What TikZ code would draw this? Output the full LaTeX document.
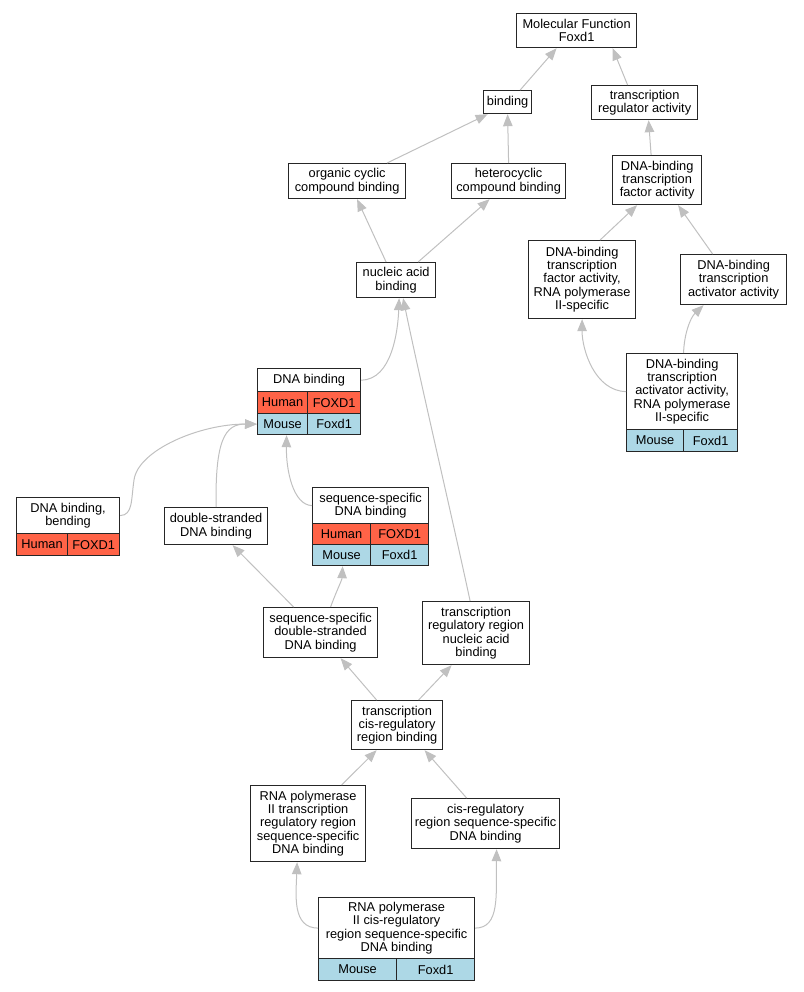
\documentclass[tikz,border=0pt]{standalone}
\usepackage{fontspec}
\setmainfont{Liberation Sans}
\usetikzlibrary{arrows.meta}
\definecolor{edgegray}{RGB}{192,192,192}
\definecolor{humanred}{RGB}{255,99,71}
\definecolor{mouseblue}{RGB}{173,216,230}
\begin{document}
\begin{tikzpicture}[x=1pt,y=-1pt,
 box/.style={draw=black!85, line width=1.2pt, fill=white, align=center, inner sep=0pt, anchor=north west, font=\fontsize{12.8}{13.4}\selectfont},
 hum/.style={box, fill=humanred},
 mou/.style={box, fill=mouseblue},
 edge/.style={draw=edgegray, line width=1pt, -{Triangle[length=12pt,width=9.5pt]}},
]
\useasboundingbox (0,0) rectangle (803,992);

\node[box, minimum width=120pt, minimum height=34pt] (mf) at (516,13) {Molecular Function\\Foxd1};
\node[box, minimum width=48pt, minimum height=23pt] (bind) at (483,90) {binding};
\node[box, minimum width=106pt, minimum height=34pt] (treg) at (591,85) {transcription\\regulator activity};
\node[box, minimum width=117pt, minimum height=35pt] (org) at (288,163) {organic cyclic\\compound binding};
\node[box, minimum width=114pt, minimum height=35pt] (het) at (451,163) {heterocyclic\\compound binding};
\node[box, minimum width=89pt, minimum height=49pt] (tfa) at (612,155) {DNA-binding\\transcription\\factor activity};
\node[box, minimum width=79pt, minimum height=35pt] (nab) at (356,262) {nucleic acid\\binding};
\node[box, minimum width=107pt, minimum height=78pt] (tfa2) at (528,240) {DNA-binding\\transcription\\factor activity,\\RNA polymerase\\II-specific};
\node[box, minimum width=106pt, minimum height=50pt] (act) at (680,254) {DNA-binding\\transcription\\activator activity};

\node[box, minimum width=103pt, minimum height=23pt] (dnab) at (257,368) {DNA binding};
\node[hum, minimum width=50pt, minimum height=22pt] (dnabh1) at (257,391) {Human};
\node[hum, minimum width=53pt, minimum height=22pt] (dnabh2) at (307,391) {FOXD1};
\node[mou, minimum width=50pt, minimum height=21pt] (dnabm1) at (257,413) {Mouse};
\node[mou, minimum width=53pt, minimum height=21pt] (dnabm2) at (307,413) {Foxd1};

\node[box, minimum width=111pt, minimum height=76pt] (act2) at (626,353) {DNA-binding\\transcription\\activator activity,\\RNA polymerase\\II-specific};
\node[mou, minimum width=57pt, minimum height=22pt] (act2m1) at (626,429) {Mouse};
\node[mou, minimum width=54pt, minimum height=22pt] (act2m2) at (683,429) {Foxd1};

\node[box, minimum width=103pt, minimum height=36pt] (bend) at (16,497) {DNA binding,\\bending};
\node[hum, minimum width=51pt, minimum height=22pt] (bendh1) at (16,533) {Human};
\node[hum, minimum width=52pt, minimum height=22pt] (bendh2) at (67,533) {FOXD1};

\node[box, minimum width=103pt, minimum height=37pt] (ds) at (164,507) {double-stranded\\DNA binding};

\node[box, minimum width=116pt, minimum height=36pt] (ssd) at (312,487) {sequence-specific\\DNA binding};
\node[hum, minimum width=58pt, minimum height=21pt] (ssdh1) at (312,523) {Human};
\node[hum, minimum width=58pt, minimum height=21pt] (ssdh2) at (370,523) {FOXD1};
\node[mou, minimum width=58pt, minimum height=21pt] (ssdm1) at (312,544) {Mouse};
\node[mou, minimum width=58pt, minimum height=21pt] (ssdm2) at (370,544) {Foxd1};

\node[box, minimum width=114pt, minimum height=50pt] (ssds) at (263,607) {sequence-specific\\double-stranded\\DNA binding};
\node[box, minimum width=107pt, minimum height=63pt] (trr) at (422,601) {transcription\\regulatory region\\nucleic acid\\binding};
\node[box, minimum width=91pt, minimum height=49pt] (tcis) at (351,700) {transcription\\cis-regulatory\\region binding};
\node[box, minimum width=115pt, minimum height=76pt] (rp2) at (250,785) {RNA polymerase\\II transcription\\regulatory region\\sequence-specific\\DNA binding};
\node[box, minimum width=148pt, minimum height=50pt] (cis) at (411,798) {cis-regulatory\\region sequence-specific\\DNA binding};

\node[box, minimum width=156pt, minimum height=61pt] (rpc) at (318,897) {RNA polymerase\\II cis-regulatory\\region sequence-specific\\DNA binding};
\node[mou, minimum width=78pt, minimum height=22pt] (rpcm1) at (318,958) {Mouse};
\node[mou, minimum width=78pt, minimum height=22pt] (rpcm2) at (396,958) {Foxd1};

% edges
\draw[edge] ([xshift=-12pt]bind.north east) -- ([xshift=-20pt]mf.south);
\draw[edge] ([xshift=-17pt]treg.north) -- ([xshift=36pt]mf.south);
\draw[edge] ([xshift=40pt]org.north) -- ([xshift=-20pt]bind.south);
\draw[edge] (het.north) -- (bind.south);
\draw[edge] ([xshift=-6pt]tfa.north) -- ([xshift=4pt]treg.south);
\draw[edge] ([xshift=-10pt]nab.north) -- ([xshift=10pt]org.south);
\draw[edge] ([xshift=22pt]nab.north) -- ([xshift=-19pt]het.south);
\draw[edge] ([xshift=18pt]tfa2.north) -- ([xshift=-20pt]tfa.south);
\draw[edge] ([xshift=-21pt]act.north) -- ([xshift=21pt]tfa.south);
\draw[edge] (act2.west) .. controls (595,391) and (582,350) .. (tfa2.south);
\draw[edge] ([xshift=1.5pt]act2.north) .. controls (684,335) and (690,318) .. ([xshift=-30pt]act.south);
\draw[edge] (dnab.east) .. controls (392,380) and (398,330) .. ([xshift=3pt]nab.south);
\draw[edge] ([xshift=-6pt]trr.north) .. controls (455,530) and (420,380) .. ([xshift=7pt]nab.south);
\draw[edge] (bend.east) .. controls (133,515) and (131,500) .. (134,480) .. controls (138,450) and (200,424) .. (dnabm1.west);
\draw[edge] (ds.north) .. controls (215,440) and (225,424) .. (dnabm1.west);
\draw[edge] (ssd.west) .. controls (293,505) and (286,470) .. ([xshift=4pt]dnabm1.south);
\draw[edge] ([xshift=-27pt]ssds.north) -- ([xshift=16.5pt]ds.south);
\draw[edge] ([xshift=10pt]ssds.north) .. controls (336,592) and (342,580) .. ([xshift=1pt]ssdm1.south);
\draw[edge] ([xshift=-20.5pt]tcis.north) -- ([xshift=20pt]ssds.south);
\draw[edge] ([xshift=21.5pt]tcis.north) -- ([xshift=-24.5pt]trr.south);
\draw[edge] ([xshift=33.5pt]rp2.north) -- ([xshift=-20.5pt]tcis.south);
\draw[edge] ([xshift=-19pt]cis.north) -- ([xshift=27.5pt]tcis.south);
\draw[edge] (rpc.west) .. controls (292,928) and (296,895) .. ([xshift=-11pt]rp2.south);
\draw[edge] (rpc.east) .. controls (500,928) and (496,895) .. ([xshift=11pt]cis.south);
\end{tikzpicture}
\end{document}
